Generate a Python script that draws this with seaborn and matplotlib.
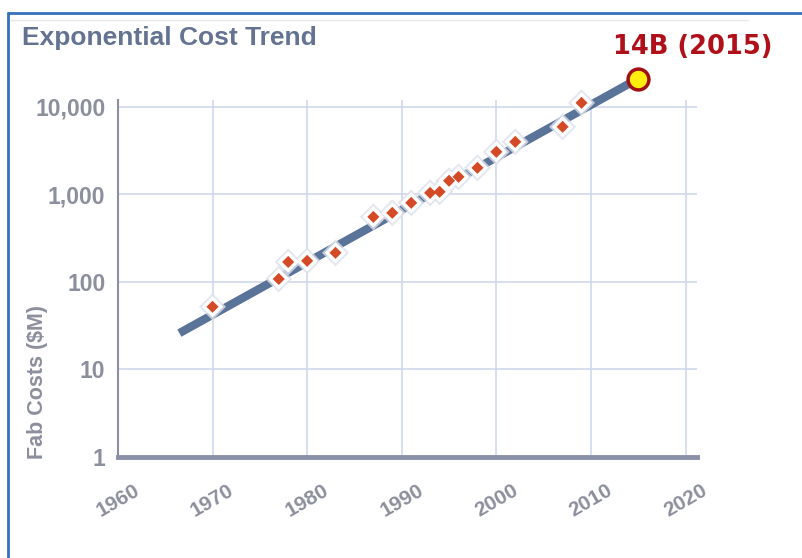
import numpy as np
import pandas as pd
import matplotlib.pyplot as plt
import seaborn as sns
from matplotlib.lines import Line2D

sns.set_style('white')
plt.rcParams['font.family'] = ['Liberation Sans Narrow', 'Liberation Sans', 'DejaVu Sans']

# fab cost data points (year, $M)
years = [1970, 1977, 1978, 1980, 1983, 1987, 1989, 1991, 1993, 1994,
         1995, 1996, 1998, 2000, 2002, 2007, 2009]
costs = [52, 108, 169, 174, 215, 553, 615, 800, 1040, 1070,
         1430, 1585, 2010, 3060, 3980, 5910, 11100]

# trend line endpoints
trend_years = [1966.5, 2015]
trend_costs = [26, 21000]

# highlighted 2015 point
hl_year = [2015]
hl_cost = [21000]
hl_label = '14B (2015)'

x_ticks = [1960, 1970, 1980, 1990, 2000, 2010, 2020]
y_ticks = [1, 10, 100, 1000, 10000]
y_labels = ['1', '10', '100', '1,000', '10,000']

pts = pd.DataFrame({'year': years, 'cost': costs})
trend = pd.DataFrame({'year': trend_years, 'cost': trend_costs})

fig = plt.figure(figsize=(8.02, 5.58), dpi=100)
ax = fig.add_axes([0.147, 0.181, 0.722, 0.64])

grey = '#8c8f9c'
grid_c = '#cfd8ec'

ax.set_yscale('log')
ax.set_xlim(1960, 2021.2)
ax.set_ylim(1, 12000)
ax.set_xticks(x_ticks)
ax.set_xticklabels([str(t) for t in x_ticks], rotation=30, ha='center',
                   fontsize=15, fontweight='bold', color=grey)
ax.set_yticks(y_ticks)
ax.set_yticklabels(y_labels, fontsize=16.5, fontweight='bold', color=grey)
ax.minorticks_off()
ax.grid(True, color=grid_c, linewidth=1.2)
ax.set_axisbelow(True)

for s in ['top', 'right']:
    ax.spines[s].set_visible(False)
ax.spines['left'].set_color(grey)
ax.spines['left'].set_linewidth(1.5)
ax.spines['bottom'].set_color('#8a90a8')
ax.spines['bottom'].set_linewidth(3.5)
ax.tick_params(axis='x', direction='out', length=9, width=1.5, color=grey, pad=8)
ax.tick_params(axis='y', direction='out', length=7, width=1.5, color=grey, pad=2)

sns.lineplot(data=trend, x='year', y='cost', ax=ax, color='#5a7399',
             linewidth=6, solid_capstyle='butt', clip_on=False, zorder=3)

# diamond markers: soft grey halo, white backing, red centre
sns.scatterplot(data=pts, x='year', y='cost', ax=ax, marker='D', s=190,
                color='#dde1ea', edgecolor='none', alpha=0.8, zorder=4, clip_on=False)
sns.scatterplot(data=pts, x='year', y='cost', ax=ax, marker='D', s=120,
                color='white', edgecolor='none', zorder=4, clip_on=False)
sns.scatterplot(data=pts, x='year', y='cost', ax=ax, marker='D', s=38,
                color='#d54a26', edgecolor='none', zorder=5, clip_on=False)

ax.plot(hl_year, hl_cost, 'o', markersize=15, markerfacecolor='#ffee10',
        markeredgecolor='#a01010', markeredgewidth=2.5, clip_on=False, zorder=6)
ax.annotate(hl_label, xy=(hl_year[0], hl_cost[0]), xytext=(39, 23),
            textcoords='offset points', ha='center', va='center',
            fontsize=18.5, fontweight='bold', color='#b0101a',
            family=['DejaVu Sans'], annotation_clip=False)

ax.set_xlabel('')
ax.set_ylabel('Fab Costs ($M)', fontsize=15.5, fontweight='bold', color=grey)
ax.yaxis.set_label_coords(-0.12, 0.21)

fig.text(0.028, 0.932, 'Exponential Cost Trend', fontsize=19, fontweight='bold',
         color='#637391', va='center', ha='left')

# frame lines
fig.add_artist(Line2D([0.01, 1.0], [0.977, 0.977], color='#3572b9', linewidth=2))
fig.add_artist(Line2D([0.01, 0.01], [0.0, 0.977], color='#3572b9', linewidth=2))
fig.add_artist(Line2D([0.013, 0.933], [0.964, 0.964], color='#e6e7ec', linewidth=1))

fig.savefig('out.png', dpi=100)
plt.close()
